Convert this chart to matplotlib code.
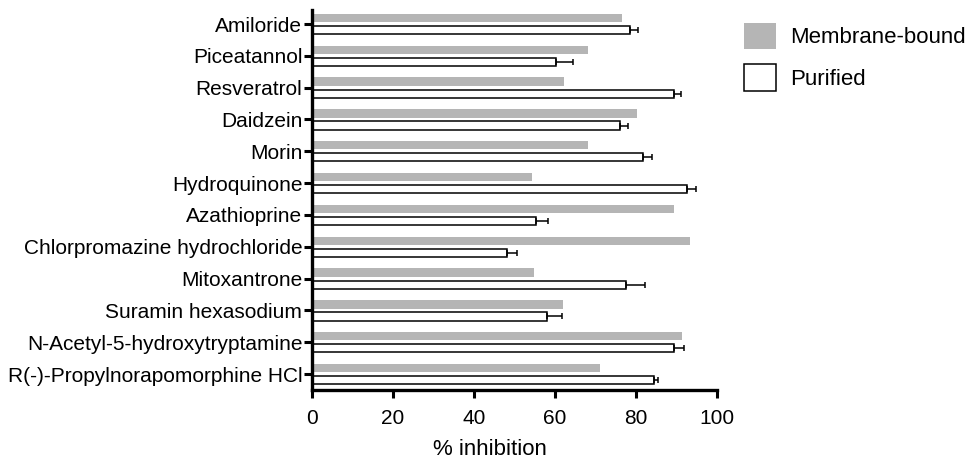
import numpy as np
import matplotlib
matplotlib.use("Agg")
import matplotlib.pyplot as plt

compounds = ["Amiloride", "Piceatannol", "Resveratrol", "Daidzein", "Morin",
             "Hydroquinone", "Azathioprine", "Chlorpromazine hydrochloride",
             "Mitoxantrone", "Suramin hexasodium", "N-Acetyl-5-hydroxytryptamine",
             "R(-)-Propylnorapomorphine HCl"]
membrane = [76.5, 68.2, 62.1, 80.2, 68.2, 54.2, 89.3, 93.4, 54.7, 62.0, 91.3, 71.2]
purified = [78.4, 60.3, 89.4, 76.0, 81.8, 92.7, 55.2, 48.1, 77.5, 58.0, 89.5, 84.4]
purified_err = [2.1, 4.1, 1.6, 2.1, 2.1, 2.1, 3.0, 2.6, 4.8, 3.8, 2.3, 1.0]

plt.rcParams["font.family"] = ["Liberation Sans", "DejaVu Sans"]
FS = 15

fig = plt.figure(figsize=(9.71, 4.61), dpi=100)
ax = fig.add_axes([312/971, 71/461, 405/971, 380/461])

y = np.arange(len(compounds))
h = 0.26
off = 0.19
ax.barh(y - off, membrane, height=h, color="#b5b5b5", edgecolor="none", label="Membrane-bound")
ax.barh(y + off, purified, height=h, color="white", edgecolor="black", linewidth=1.1,
        xerr=[np.zeros(len(purified_err)), purified_err],
        error_kw=dict(ecolor="black", elinewidth=1.1, capsize=2.5, capthick=1.1),
        label="Purified")

ax.set_xlim(0, 100)
ax.set_ylim(len(compounds) - 0.5, -0.44)
ax.set_yticks(y)
ax.set_yticklabels(compounds, fontsize=FS)
ax.set_xticks([0, 20, 40, 60, 80, 100])
ax.tick_params(axis="x", labelsize=FS, width=2.2, length=6, direction="out", pad=8)
ax.tick_params(axis="y", width=2.2, length=6, direction="out", pad=1)
ax.set_xlabel("% inhibition", fontsize=16)
ax.xaxis.set_label_coords((490 - 312) / 405, -0.128)
for s in ["top", "right"]:
    ax.spines[s].set_visible(False)
for s in ["left", "bottom"]:
    ax.spines[s].set_linewidth(2.4)

fig.legend(loc="upper left", bbox_to_anchor=(744/971, 1 - 23/461), frameon=False,
           fontsize=16, handlelength=1.44, handleheight=1.44, labelspacing=0.68,
           handletextpad=0.63, borderpad=0, borderaxespad=0)

fig.savefig("out.png", dpi=100)
